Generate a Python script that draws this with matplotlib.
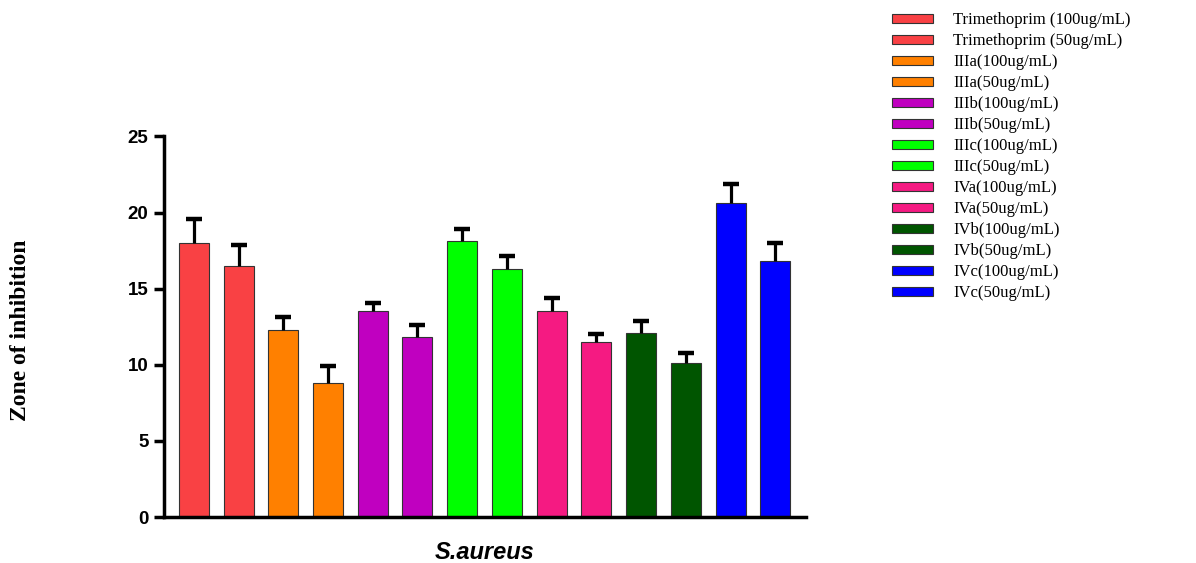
import matplotlib.pyplot as plt
import numpy as np

# Data
LABELS = [
    "Trimethoprim (100ug/mL)", "Trimethoprim (50ug/mL)",
    "IIIa(100ug/mL)", "IIIa(50ug/mL)",
    "IIIb(100ug/mL)", "IIIb(50ug/mL)",
    "IIIc(100ug/mL)", "IIIc(50ug/mL)",
    "IVa(100ug/mL)", "IVa(50ug/mL)",
    "IVb(100ug/mL)", "IVb(50ug/mL)",
    "IVc(100ug/mL)", "IVc(50ug/mL)",
]
MEANS = [18.0, 16.5, 12.3, 8.8, 13.5, 11.8, 18.1, 16.3, 13.5, 11.5, 12.1, 10.1, 20.6, 16.8]
ERRORS = [1.55, 1.35, 0.85, 1.1, 0.55, 0.8, 0.8, 0.85, 0.9, 0.5, 0.8, 0.7, 1.25, 1.2]
COLORS = [
    "#F94144", "#F94144", "#FF8000", "#FF8000", "#C000C0", "#C000C0",
    "#00FF00", "#00FF00", "#F51A82", "#F51A82", "#005500", "#005500",
    "#0000FF", "#0000FF",
]

SANS = "Liberation Sans"
SERIF = "Liberation Serif"

fig = plt.figure(figsize=(11.96, 5.63), dpi=100)
ax = fig.add_axes([0.137, 0.0817, 0.537, 0.676])

x = np.arange(len(MEANS))
bars = ax.bar(
    x, MEANS, width=0.67, color=COLORS, edgecolor="#333333", linewidth=0.8,
    yerr=[np.zeros(len(ERRORS)), ERRORS],
    error_kw=dict(ecolor="black", elinewidth=2.3, capsize=5.5, capthick=3.2),
)
# only the upper cap is shown
caplines = bars.errorbar.lines[1]
caplines[0].set_visible(False)

for b, lab in zip(bars, LABELS):
    b.set_label(lab)

ax.set_xlim(-0.67, len(MEANS) - 1 + 0.69)
ax.set_ylim(0, 25)
ax.set_yticks(range(0, 26, 5))
ax.set_xticks([])

for side in ["top", "right"]:
    ax.spines[side].set_visible(False)
for side in ["left", "bottom"]:
    ax.spines[side].set_linewidth(2.5)
ax.tick_params(axis="y", direction="out", length=7, width=2.5, pad=4)
for t in ax.get_yticklabels():
    t.set_fontfamily(SANS)
    t.set_fontweight("bold")
    t.set_fontsize(13.5)

# y label sits far to the left, near the figure edge
fig.text(21 / 1196, 1 - 330 / 563, "Zone of inhibition", rotation=90,
         ha="center", va="center", fontfamily=SERIF, fontweight="bold",
         fontsize=17)
ax.set_xlabel("S.aureus", fontfamily=SANS, fontweight="bold", style="italic",
              fontsize=17, labelpad=17)

handles = list(bars)
leg = fig.legend(
    handles, LABELS, loc="upper left", bbox_to_anchor=(0.733, 1.005),
    frameon=False, prop={"family": SERIF, "size": 12},
    handlelength=2.45, handleheight=0.45, labelspacing=0.3, handletextpad=1.25,
)

fig.savefig("out.png", dpi=100)
